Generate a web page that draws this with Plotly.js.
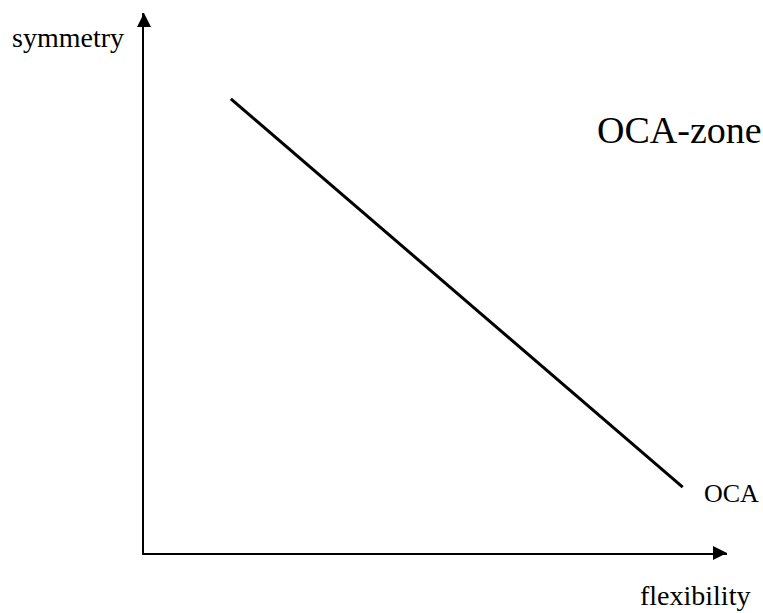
<!DOCTYPE html>
<html>
<head>
<meta charset="utf-8">
<script src="https://cdn.plot.ly/plotly-3.0.1.min.js"></script>
<style>html,body{margin:0;padding:0;background:#fff;}#chart{width:763px;height:613px;}</style>
</head>
<body>
<div id="chart"></div>
<script>
// Diagram data (arbitrary units, axes run 0..10)
var lineX = [1.49, 9.24];
var lineY = [8.41, 1.22];
var arrowX = [0, 10];
var arrowY = [10, 0];
var arrowSymbols = ['arrow-up', 'arrow-right'];
// Labels (positions as fractions of the plot area)
var labelTexts = ['symmetry', 'OCA-zone', 'OCA', 'flexibility'];
var labelX = [-0.2298, 0.774, 0.957, 0.8473];
var labelY = [0.9546, 0.783, 0.111, -0.078];
var labelSizes = [28, 38, 26, 28];

var serif = '"Liberation Serif", "Times New Roman", serif';

var traces = [
  {
    x: lineX, y: lineY, mode: 'lines', type: 'scatter',
    line: {color: '#000', width: 3}, hoverinfo: 'skip', showlegend: false
  },
  {
    x: arrowX, y: arrowY, mode: 'markers', type: 'scatter', cliponaxis: false,
    marker: {symbol: arrowSymbols, size: 14, color: '#000', line: {width: 0}},
    hoverinfo: 'skip', showlegend: false
  }
];

var annotations = labelTexts.map(function (t, i) {
  return {
    text: t, x: labelX[i], y: labelY[i], xref: 'paper', yref: 'paper',
    xanchor: 'left', yanchor: 'middle', showarrow: false,
    font: {family: serif, size: labelSizes[i], color: '#000'}
  };
});

var layout = {
  width: 763, height: 613,
  margin: {l: 144, r: 36, t: 13, b: 60, pad: 0},
  paper_bgcolor: '#fff', plot_bgcolor: '#fff',
  showlegend: false,
  xaxis: {range: [0, 10], showgrid: false, zeroline: false, showticklabels: false,
          ticks: '', showline: true, linecolor: '#000', linewidth: 2, fixedrange: true},
  yaxis: {range: [0, 10], showgrid: false, zeroline: false, showticklabels: false,
          ticks: '', showline: true, linecolor: '#000', linewidth: 2, fixedrange: true},
  annotations: annotations
};

Plotly.newPlot('chart', traces, layout, {staticPlot: true, displayModeBar: false});
</script>
</body>
</html>
